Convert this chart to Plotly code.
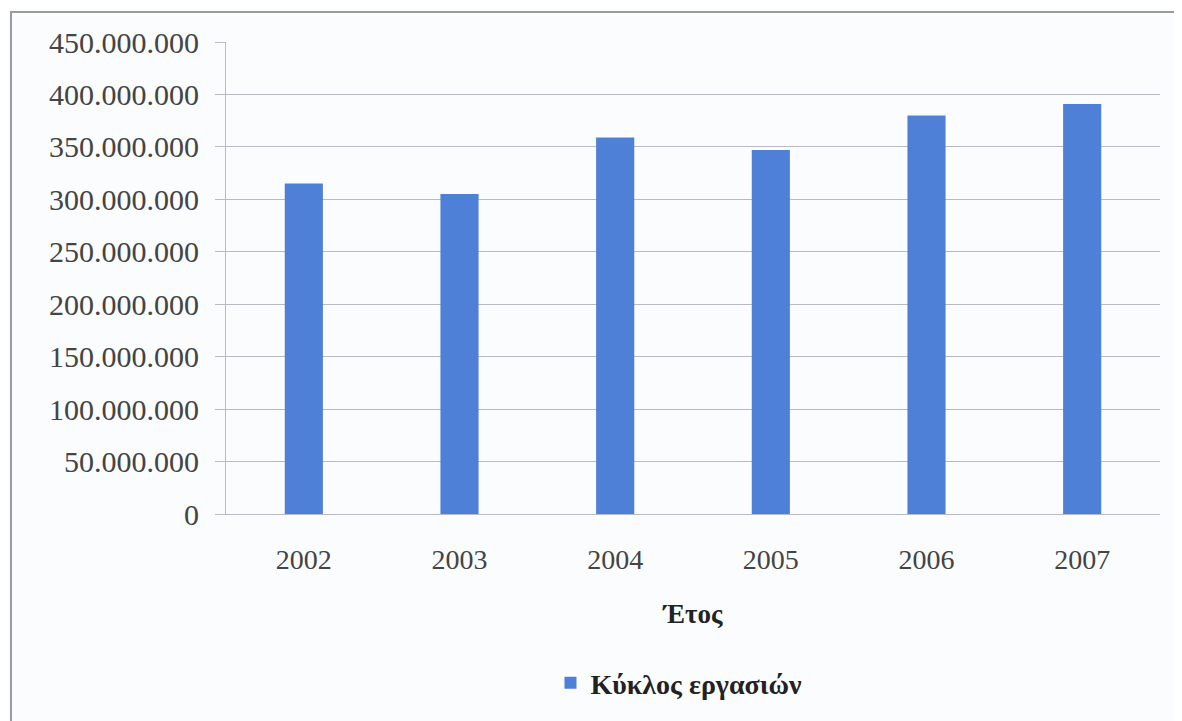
import plotly.graph_objects as go

# ---------------------------------------------------------------------------
# Data
# ---------------------------------------------------------------------------
years = ["2002", "2003", "2004", "2005", "2006", "2007"]
turnover = [315_000_000, 305_000_000, 359_000_000, 347_000_000, 380_000_000, 391_000_000]
series_name = "Κύκλος εργασιών"
x_title = "Έτος"

# page body adds an 8px margin, so the figure is sized a bit smaller
W, H = 1166, 713
L, R, T, B = 218, 14, 34, 207
BAR_COLOR = "#4f80d8"
GRID = "#b9b9c2"
FONT = "Liberation Serif, Times New Roman, serif"

fig = go.Figure(go.Bar(
    x=years,
    y=turnover,
    name="<b>" + series_name + "</b>",
    marker=dict(color=BAR_COLOR, line=dict(width=0)),
    showlegend=True,
))

pw, ph = W - L - R, H - T - B


def px_x(p):
    return (p - L) / pw


def px_y(p):
    return (H - B - p) / ph


# outer frame of the chart area (bottom edge falls outside the picture)
fig.add_shape(
    type="rect", xref="paper", yref="paper",
    x0=px_x(3), x1=px_x(1168), y0=px_y(740), y1=px_y(4),
    line=dict(color="#9a9aa0", width=2), fillcolor="rgba(0,0,0,0)", layer="below",
)

fig.update_layout(
    width=W, height=H,
    margin=dict(l=L, r=R, t=T, b=B),
    paper_bgcolor="#fbfcfd",
    plot_bgcolor="#fbfcfd",
    separators=",.",
    bargap=0.755,
    font=dict(family=FONT, color="#333333"),
    xaxis=dict(
        title=dict(text="<b>" + x_title + "</b>", font=dict(size=27, color="#222"), standoff=30),
        tickfont=dict(size=28, color="#444"),
        showline=True, linecolor=GRID, linewidth=1,
        ticks="", showgrid=False,
        ticklabelstandoff=20,
    ),
    yaxis=dict(
        range=[0, 450_000_000],
        dtick=50_000_000,
        tickformat=",d",
        tickfont=dict(size=30, color="#444"),
        showgrid=True, gridcolor=GRID, gridwidth=1,
        showline=True, linecolor=GRID, linewidth=1,
        ticks="outside", ticklen=10, tickcolor=GRID,
        ticklabelstandoff=10,
        zeroline=False,
    ),
    legend=dict(
        orientation="h",
        x=0.485, xanchor="center",
        y=px_y(675), yanchor="middle",
        font=dict(size=28, color="#222"),
        bgcolor="rgba(0,0,0,0)",
    ),
)

fig.write_html("out.html")
